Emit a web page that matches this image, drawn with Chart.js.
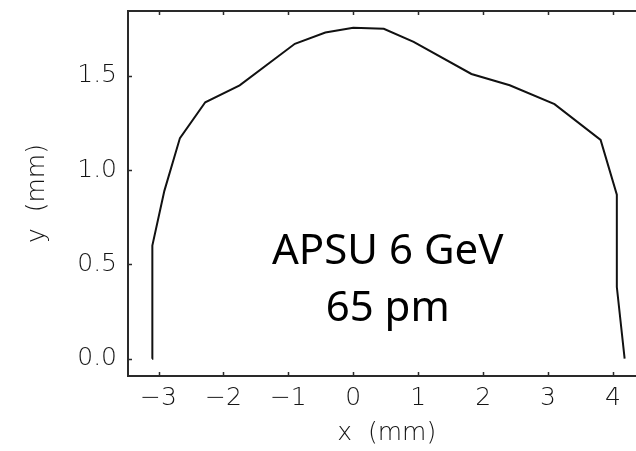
<!DOCTYPE html>
<html>
<head>
<meta charset="utf-8">
<script src="https://cdn.jsdelivr.net/npm/chart.js@4.4.1/dist/chart.umd.min.js"></script>
<style>
  html, body { margin: 0; padding: 0; background: #fff; overflow: hidden; }
  #wrap { width: 650px; height: 451px; }
</style>
</head>
<body>
<div id="wrap"><canvas id="myChart" width="650" height="451"></canvas></div>
<script>
// aperture boundary
const xValues = [-3.10, -3.10, -3.09, -2.91, -2.67, -2.28, -1.75, -0.90, -0.43, 0.00, 0.47, 0.93, 1.82, 2.41, 3.10, 3.81, 4.06, 4.06, 4.18];
const yValues = [0.00, 0.33, 0.60, 0.89, 1.17, 1.36, 1.45, 1.67, 1.73, 1.755, 1.75, 1.68, 1.51, 1.45, 1.35, 1.16, 0.87, 0.38, 0.00];
const xTicks = [-3, -2, -1, 0, 1, 2, 3, 4];
const yTicks = [0, 0.5, 1.0, 1.5];
const noteLines = ['APSU 6 GeV', '65 pm'];
const noteX = 0.53;
const noteY = [0.5, 0.2];

const axisColor = '#2a2a2a';
const textColor = '#151515';
const tickFont = {family: 'DejaVu Sans', size: 25, weight: '200'};

const frame = {
    id: 'frame',
    afterDraw: (chart) => {
        const {ctx, chartArea, scales} = chart;
        ctx.save();
        ctx.strokeStyle = axisColor;
        ctx.lineWidth = 2;
        ctx.beginPath();
        ctx.moveTo(chartArea.left - 1, chartArea.top);
        ctx.lineTo(chart.width, chartArea.top);
        ctx.stroke();

        // small inward ticks
        ctx.lineWidth = 1.5;
        ctx.beginPath();
        for (const v of xTicks) {
            const px = Math.round(scales.x.getPixelForValue(v)) + 0.5;
            ctx.moveTo(px, chartArea.bottom);
            ctx.lineTo(px, chartArea.bottom - 4);
            ctx.moveTo(px, chartArea.top);
            ctx.lineTo(px, chartArea.top + 4);
        }
        for (const v of yTicks) {
            const py = Math.round(scales.y.getPixelForValue(v)) + 0.5;
            ctx.moveTo(chartArea.left, py);
            ctx.lineTo(chartArea.left + 4, py);
        }
        ctx.stroke();

        ctx.fillStyle = '#000';
        ctx.font = "42px 'Noto Sans'";
        ctx.textAlign = 'center';
        ctx.textBaseline = 'alphabetic';
        noteLines.forEach((line, i) => {
            ctx.fillText(line, scales.x.getPixelForValue(noteX), scales.y.getPixelForValue(noteY[i]));
        });
        ctx.restore();
    }
};

const ctx = document.getElementById('myChart').getContext('2d');
new Chart(ctx, {
    type: 'scatter',
    data: {
        datasets: [{
            data: xValues.map((x, i) => ({x: x, y: yValues[i]})),
            showLine: true,
            borderColor: '#111',
            borderWidth: 2,
            pointRadius: 0,
            tension: 0,
            fill: false
        }]
    },
    options: {
        responsive: false,
        animation: false,
        devicePixelRatio: 1,
        layout: {padding: {top: 11, left: 0, right: 4.6, bottom: 0}},
        plugins: {legend: {display: false}, tooltip: {enabled: false}},
        scales: {
            x: {
                type: 'linear',
                min: -3.47,
                max: 4.5,
                afterBuildTicks: s => { s.ticks = xTicks.map(v => ({value: v})); },
                afterFit: s => { s.height = 75; s.paddingLeft = 0; s.paddingRight = 0; },
                grid: {display: false, drawTicks: false},
                border: {display: true, color: axisColor, width: 2},
                ticks: {
                    color: textColor,
                    font: tickFont,
                    padding: 7,
                    maxRotation: 0,
                    autoSkip: false,
                    callback: v => (v < 0 ? '\u2212' + Math.abs(v) : String(v))
                },
                title: {display: true, text: 'x  (mm)', color: textColor, font: tickFont, padding: {top: 0, bottom: 3}}
            },
            y: {
                type: 'linear',
                min: -0.092,
                max: 1.844,
                afterBuildTicks: s => { s.ticks = yTicks.map(v => ({value: v})); },
                afterFit: s => { s.width = 128; s.paddingTop = 0; s.paddingBottom = 0; },
                grid: {display: false, drawTicks: false},
                border: {display: true, color: axisColor, width: 2},
                ticks: {
                    color: textColor,
                    font: tickFont,
                    padding: 11,
                    autoSkip: false,
                    callback: v => v.toFixed(1)
                },
                title: {display: true, text: 'y  (mm)', color: textColor, font: tickFont, padding: {top: 22, bottom: 0}}
            }
        }
    },
    plugins: [frame]
});
</script>
</body>
</html>
